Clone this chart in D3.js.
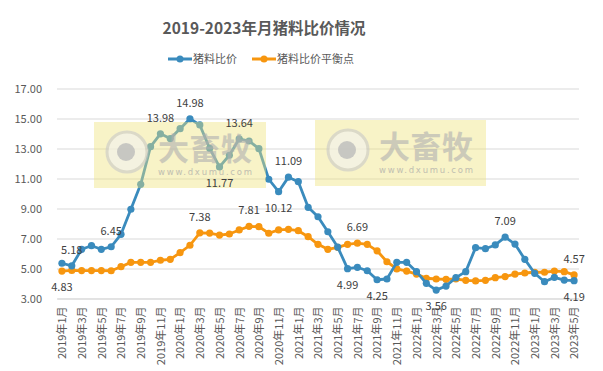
<!DOCTYPE html>
<html><head><meta charset="utf-8">
<script src="https://cdn.jsdelivr.net/npm/d3@7"></script>
<style>
html,body{margin:0;padding:0;background:#fff;}
svg{display:block;font-family:"Noto Sans CJK SC","Noto Sans",sans-serif;}
</style></head>
<body>
<svg id="chart" width="603" height="371"></svg>
<script>
// ---- data ----
const months = [];
for (let yr = 2019; yr <= 2023; yr++) for (let m = 1; m <= 12; m++) { if (yr === 2023 && m > 5) break; months.push(yr + "年" + m + "月"); }
const ratio = [5.35,5.18,6.28,6.52,6.28,6.45,7.28,8.95,10.61,13.12,13.98,13.66,14.32,14.98,14.57,13.01,11.77,12.55,13.64,13.50,12.99,10.95,10.12,11.09,10.79,9.08,8.45,7.45,6.43,4.99,5.08,4.85,4.25,4.30,5.41,5.41,4.79,4.01,3.56,3.83,4.39,4.79,6.39,6.32,6.57,7.09,6.63,5.61,4.68,4.12,4.41,4.23,4.19];
const balance = [4.83,4.87,4.86,4.86,4.86,4.85,5.12,5.41,5.41,5.41,5.55,5.61,6.06,6.55,7.38,7.36,7.23,7.30,7.57,7.81,7.79,7.35,7.57,7.61,7.52,7.12,6.61,6.28,6.41,6.61,6.69,6.61,6.18,5.45,4.97,4.83,4.63,4.35,4.30,4.28,4.30,4.21,4.17,4.21,4.39,4.46,4.63,4.70,4.75,4.75,4.83,4.79,4.57];
const yTicks = [3,5,7,9,11,13,15,17];
const seriesNames = ["猪料比价","猪料比价平衡点"];
// labelled points: [index, above(1)/below(-1)]
const ratioLabels = [[1,1],[5,1],[10,1],[13,1],[16,-1],[18,1],[22,-1],[23,1],[29,-1],[32,-1],[38,-1],[45,1],[52,-1]];
const balanceLabels = [[0,-1],[14,1],[19,1],[30,1],[52,1]];

const colors = ["#3a8bbd","#f7960f"];
const svg = d3.select("#chart");
const pL = 57, pR = 579, pT = 88.5, pB = 298.5;

const x = d3.scalePoint().domain(months).range([pL, pR]).padding(0.5);
const y = d3.scaleLinear().domain([3,17]).range([pB, pT]);

// title
svg.append("text").attr("x", 264).attr("y", 34).attr("text-anchor","middle")
  .attr("font-size", 15.5).attr("font-weight","bold").attr("fill","#595959")
  .text("2019-2023年月猪料比价情况");

// legend
const lg = [{x0:168, tx:193},{x0:252, tx:277}];
seriesNames.forEach((n,i)=>{
  const g = svg.append("g");
  g.append("line").attr("x1", lg[i].x0).attr("x2", lg[i].x0+24).attr("y1",59).attr("y2",59)
    .attr("stroke", colors[i]).attr("stroke-width", 3);
  g.append("circle").attr("cx", lg[i].x0+12).attr("cy",59).attr("r",3.5).attr("fill",colors[i]);
  g.append("text").attr("x", lg[i].tx).attr("y", 59).attr("dy","0.35em")
    .attr("font-size", 11).attr("fill","#595959").text(n);
});

// y axis with gridlines
const yAxis = svg.append("g").attr("transform", `translate(${pL},0)`)
  .call(d3.axisLeft(y).tickValues(yTicks).tickSize(-(pR-pL)).tickPadding(15).tickFormat(d3.format(".2f")));
yAxis.select(".domain").remove();
yAxis.selectAll(".tick line").attr("stroke","#d9d9d9");
yAxis.selectAll(".tick text").attr("fill","#595959").attr("font-size",11).attr("font-family",'"Noto Sans CJK SC",sans-serif');

// x axis
const xAxis = svg.append("g").attr("transform", `translate(0,${pB})`)
  .call(d3.axisBottom(x).tickValues(months.filter((d,i)=>i%2===0)).tickSize(0));
xAxis.select(".domain").attr("stroke","#d9d9d9");
xAxis.selectAll(".tick text").attr("fill","#595959").attr("font-size",11)
  .attr("font-family",'"Noto Sans CJK SC",sans-serif')
  .attr("text-anchor","end").attr("transform","rotate(-90)")
  .attr("x",-8).attr("y",0).attr("dy","0.35em");

// lines
const series = [ratio, balance];
const line = d3.line().x((d,i)=>x(months[i])).y(d=>y(d));
const plots = svg.append("g");
[1,0].forEach(si=>{
  plots.append("path").datum(series[si]).attr("d", line).attr("fill","none")
    .attr("stroke", colors[si]).attr("stroke-width", 2.8).attr("stroke-linejoin","round");
  plots.selectAll(null).data(series[si]).enter().append("circle")
    .attr("cx",(d,i)=>x(months[i])).attr("cy",d=>y(d)).attr("r",3.6).attr("fill",colors[si]);
});

// watermarks
function watermark(x0, y0, w, h){
  const g = svg.append("g");
  g.append("rect").attr("x",x0).attr("y",y0).attr("width",w).attr("height",h)
    .attr("fill","#efe27a").attr("opacity",0.42);
  const cx = x0+33, cy = y0+30;
  g.append("circle").attr("cx",cx).attr("cy",cy).attr("r",20).attr("fill","#f2f2f2").attr("opacity",0.6)
    .attr("stroke","#c8c8c8").attr("stroke-width",3);
  g.append("circle").attr("cx",cx-1).attr("cy",cy).attr("r",9).attr("fill","#b8b8b8").attr("opacity",0.75);
  g.append("text").attr("x",x0+64).attr("y",y0+38).attr("font-size",31).attr("font-weight","bold")
    .attr("fill","#b0b0b0").attr("opacity",0.6).attr("textLength",94).text("大畜牧");
  g.append("text").attr("x",x0+64).attr("y",y0+53).attr("font-size",8.5)
    .attr("fill","#a8a8a8").attr("opacity",0.7).attr("textLength",94).attr("font-family","DejaVu Sans")
    .text("www.dxumu.com");
}
watermark(94,122,172,66);
watermark(315,120,171,66);

// data labels
const lab = svg.append("g").attr("font-size",11).attr("fill","#404040").attr("text-anchor","middle");
[[ratio, ratioLabels],[balance, balanceLabels]].forEach(([s, L])=>{
  L.forEach(([i,dir])=>{
    lab.append("text").attr("x", x(months[i])).attr("y", y(s[i]) - dir*16).attr("dy","0.35em")
      .text(d3.format(".2f")(s[i]));
  });
});
</script>
</body></html>
